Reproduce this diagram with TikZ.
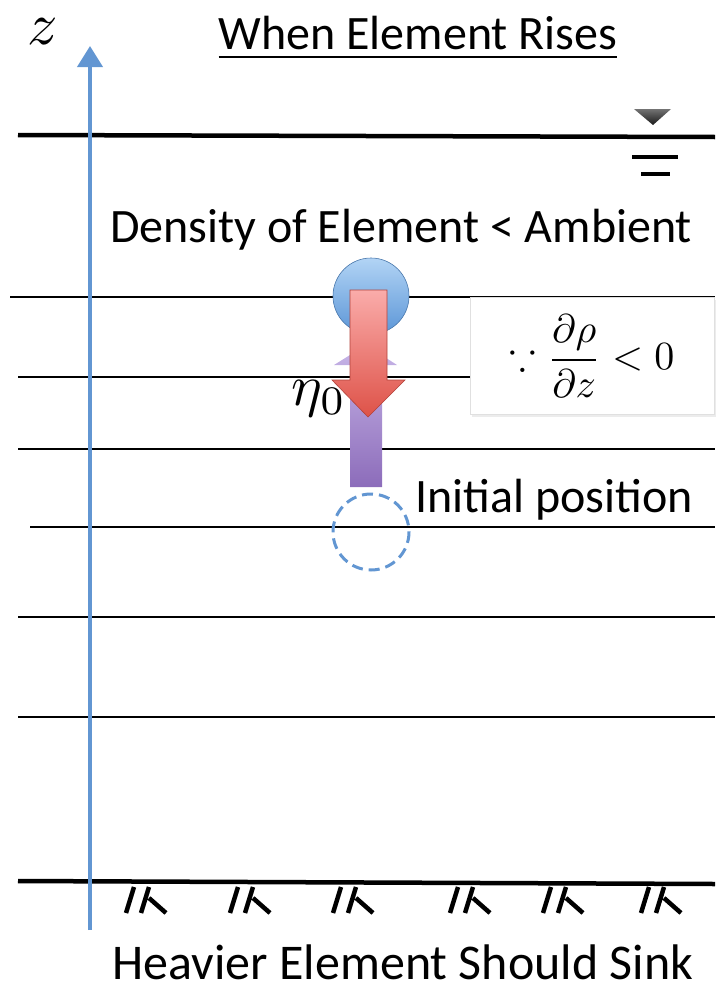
\documentclass[tikz,border=0pt]{standalone}
\usepackage{amsmath,amssymb}
\usepackage{graphicx}
\usepackage{fontspec}
\setmainfont{Carlito}
\usepackage{tikz}
\usetikzlibrary{positioning,arrows.meta,shadows}

\definecolor{axisblue}{RGB}{98,150,210}
\definecolor{ballhi}{RGB}{178,212,245}
\definecolor{balllo}{RGB}{92,150,215}
\definecolor{redhi}{RGB}{250,172,170}
\definecolor{redlo}{RGB}{222,82,72}
\definecolor{purphi}{RGB}{200,182,232}
\definecolor{purplo}{RGB}{140,108,186}

\begin{document}
\begin{tikzpicture}[x=1pt, y=-1pt,
    layer/.style={line width=2pt, black},
    bed/.style={line width=4.5pt, black},
    hatch/.style={line width=4.5pt, black},
    txt/.style={inner sep=0pt, font=\fontsize{48}{52}\selectfont},
    axis/.style={line width=4pt, axisblue, -{Triangle[length=21pt, width=25pt]}},
]
\useasboundingbox (0,0) rectangle (715,993);

% density layers
\draw[bed]   (18,135) -- (715,137);
\draw[layer] (10,297)  -- (715,297);
\draw[layer] (18,377)  -- (715,377);
\draw[layer] (18,449)  -- (715,449);
\draw[layer] (30,527)  -- (715,527);
\draw[layer] (18,617)  -- (715,617);
\draw[layer] (18,717)  -- (715,717);
\draw[bed]   (18,881) -- (715,884);

% free surface mark
\shade[top color=black!55, bottom color=black!90] (634,109) -- (671,109) -- (653,125) -- cycle;
\draw[bed] (632,157) -- (678,157);
\draw[bed] (641,174) -- (670,174);

% bed hatching
\foreach \hx in {126,230,333,450,543,641}
  \draw[hatch] (\hx+8,887) -- (\hx,913)
               (\hx+23,887) -- (\hx+15,913)
               (\hx+23,898) -- (\hx+40,913);

% z axis
\coordinate (zbot) at (90,930);
\coordinate (ztop) at (90,46);
\draw[axis] (zbot) -- (ztop);
\node[inner sep=0pt] (zlab) at (43,32) {\scalebox{6}{$z$}};

% element
\shade[top color=ballhi, bottom color=balllo, draw=balllo!80!black, line width=0.6pt]
  (371,296) circle (38);
\shade[top color=purphi, bottom color=purplo]
  (350,487) -- (350,365) -- (334,365) -- (366,345) -- (397,365) -- (382,365) -- (382,487) -- cycle;
\shade[top color=redhi, bottom color=redlo, draw=redlo!80!black, line width=0.6pt]
  (350,290) -- (350,380) -- (332,380) -- (368,417) -- (405,380) -- (387,380) -- (387,290) -- cycle;
\draw[axisblue, line width=3pt, dash pattern=on 11pt off 6pt] (371,532) circle (38);

% labels
\node[txt] (title) at (418,38) {\underline{When Element Rises}};
\node[txt] (dens) at (401,230) {Density of Element < Ambient};
\node[txt, anchor=west] (init) at (415,500) {Initial position};
\node[inner sep=0pt] (eta) at (319,399) {\scalebox{5.8}{$\eta_0$}};
\node[draw=black!12, fill=white, drop shadow={opacity=0.15}, minimum width=244pt,
      minimum height=117pt] (grad) at (592,356)
  {\scalebox{4}{$\because\dfrac{\partial\rho}{\partial z}<0$}};
\node[txt, font=\fontsize{50}{54}\selectfont] (bottom) at (403,962) {Heavier Element Should Sink};
\end{tikzpicture}
\end{document}
